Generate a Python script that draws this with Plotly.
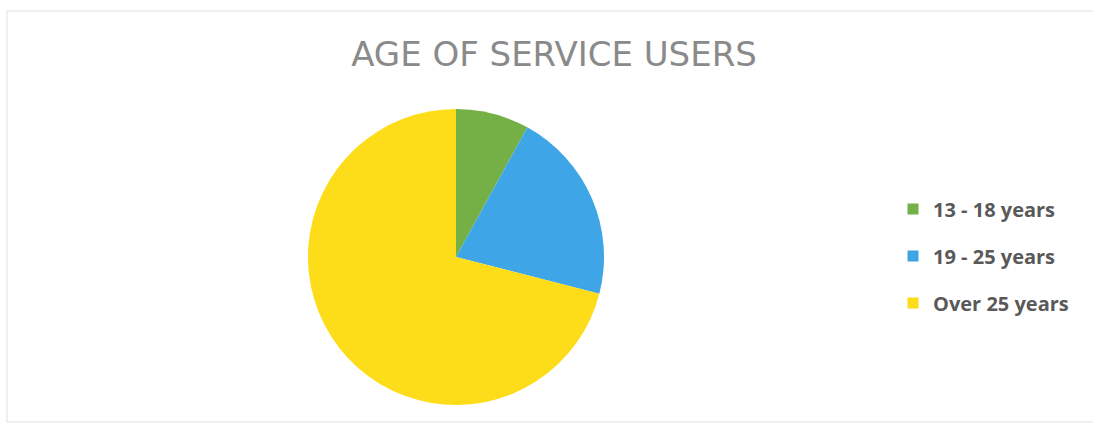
import plotly.graph_objects as go

categories = ["13 - 18 years", "19 - 25 years", "Over 25 years"]
values = [8, 21, 71]
colors = ["#74B046", "#3EA6E6", "#FDDC1A"]

W, H = 1093, 427
cx, cy, r = 456, 257, 148

fig = go.Figure()
fig.add_trace(go.Pie(
    labels=categories, values=values, sort=False, direction="clockwise",
    rotation=0, textinfo="none", hoverinfo="label+percent", showlegend=False,
    marker=dict(colors=colors, line=dict(width=0)),
    domain=dict(x=[(cx - r) / W, (cx + r) / W], y=[(H - cy - r) / H, (H - cy + r) / H]),
))
for i, (cat, col) in enumerate(zip(categories, colors)):
    fig.add_trace(go.Scatter(
        x=[None], y=[None], mode="markers", name=cat, legendgroup=cat,
        marker=dict(symbol="square", size=11, color=col), showlegend=True,
    ))

fig.update_layout(
    width=W, height=H, margin=dict(l=0, r=0, t=0, b=0),
    paper_bgcolor="white", plot_bgcolor="rgba(0,0,0,0)",
    xaxis=dict(visible=False), yaxis=dict(visible=False),
    title=dict(text="AGE OF SERVICE USERS", x=554 / W, y=(H - 54) / H,
               xanchor="center", yanchor="middle",
               font=dict(family="DejaVu Sans", size=34, color="#8a8a8a")),
    legend=dict(x=893 / W, y=(H - 256) / H, xanchor="left", yanchor="middle",
                tracegroupgap=18, bgcolor="rgba(0,0,0,0)",
                font=dict(family="Open Sans", size=20, color="#595959", weight="bold")),
    shapes=[dict(type="rect", xref="paper", yref="paper", x0=7 / W, x1=1.01, y0=(H - 422) / H, y1=(H - 11) / H,
                 line=dict(color="#ebebeb", width=1.5), fillcolor="rgba(0,0,0,0)")],
)
fig.write_html("out.html")
